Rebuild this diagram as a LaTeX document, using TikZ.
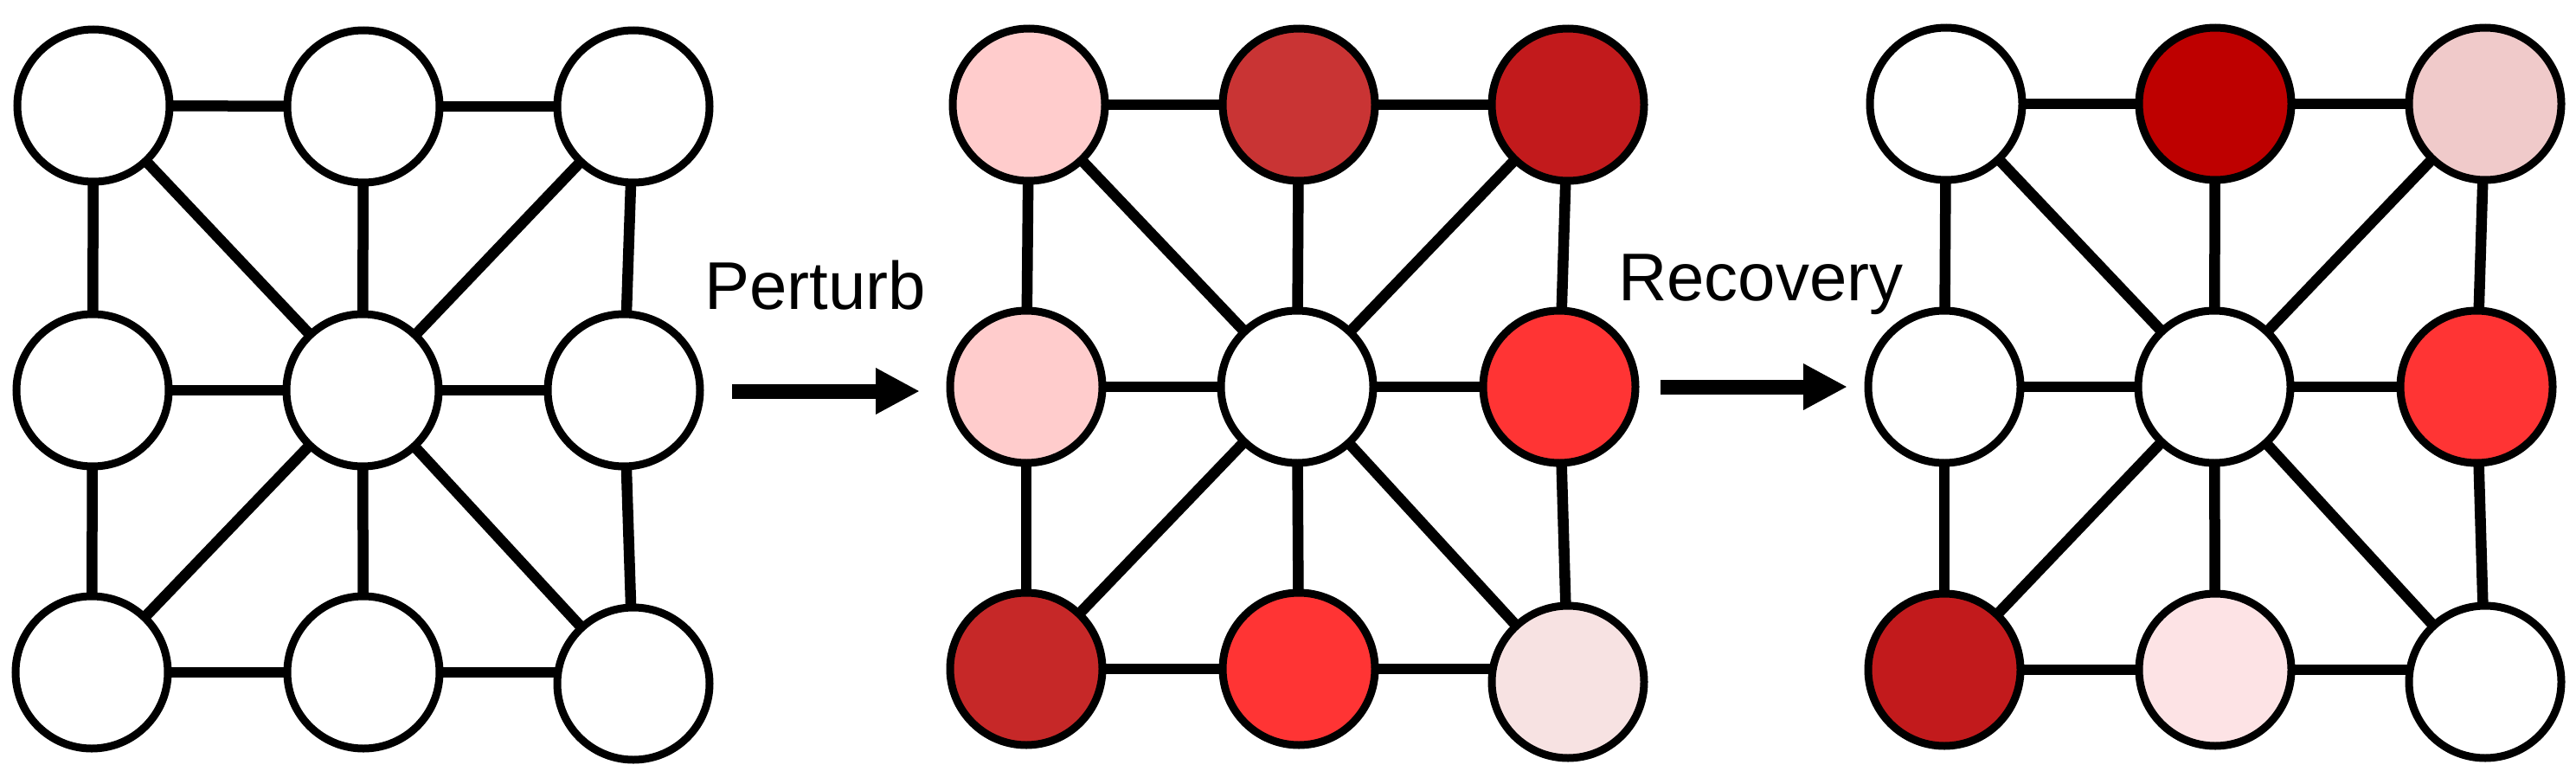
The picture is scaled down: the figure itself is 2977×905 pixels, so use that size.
\documentclass[tikz,border=0pt]{standalone}
\usepackage{fontspec}
\setmainfont{Liberation Sans}
\usetikzlibrary{arrows.meta,backgrounds}
\definecolor{pinkA}{HTML}{FFCCCC}
\definecolor{redB}{HTML}{C93434}
\definecolor{redC}{HTML}{C21A1C}
\definecolor{redD}{HTML}{FF3434}
\definecolor{redE}{HTML}{C62828}
\definecolor{pinkF}{HTML}{F7E2E2}
\definecolor{redG}{HTML}{BE0000}
\definecolor{pinkH}{HTML}{F0CACA}
\definecolor{pinkI}{HTML}{FDE3E5}
\tikzset{
  gnode/.style={circle, draw=black, line width=9pt, minimum size=176pt, inner sep=0pt, fill=white},
  gedge/.style={draw=black, line width=12.5pt},
  bigarrow/.style={line width=17pt, -{Triangle[length=51pt,width=50pt]}},
  lbl/.style={font=\fontsize{78}{90}\selectfont, inner sep=0pt, anchor=base west}
}
\begin{document}
\begin{tikzpicture}[x=1pt,y=-1pt]
\useasboundingbox (0,0) rectangle (2977,905);
% Panel 1
\node[gnode] (a1) at (108,122) {};
\node[gnode] (a2) at (420,123) {};
\node[gnode] (a3) at (732,123) {};
\node[gnode] (a4) at (107,451) {};
\node[gnode] (a5) at (419,451) {};
\node[gnode] (a6) at (721,451) {};
\node[gnode] (a7) at (106,777) {};
\node[gnode] (a8) at (420,777) {};
\node[gnode] (a9) at (732,790) {};
% Panel 2
\node[gnode, fill=pinkA] (b1) at (1189,121) {};
\node[gnode, fill=redB] (b2) at (1501,121) {};
\node[gnode, fill=redC] (b3) at (1812,121) {};
\node[gnode, fill=pinkA] (b4) at (1186,447) {};
\node[gnode] (b5) at (1499,447) {};
\node[gnode, fill=redD] (b6) at (1802,447) {};
\node[gnode, fill=redE] (b7) at (1186,773) {};
\node[gnode, fill=redD] (b8) at (1501,773) {};
\node[gnode, fill=pinkF] (b9) at (1812,788) {};
% Panel 3
\node[gnode] (c1) at (2249,120) {};
\node[gnode, fill=redG] (c2) at (2560,120) {};
\node[gnode, fill=pinkH] (c3) at (2872,120) {};
\node[gnode] (c4) at (2247,447) {};
\node[gnode] (c5) at (2559,447) {};
\node[gnode, fill=redD] (c6) at (2862,447) {};
\node[gnode, fill=redC] (c7) at (2247,774) {};
\node[gnode, fill=pinkI] (c8) at (2560,774) {};
\node[gnode] (c9) at (2872,788) {};
\begin{pgfonlayer}{background}
\foreach \p in {a,b,c}{
  \foreach \u/\v in {1/2,2/3,4/5,5/6,7/8,1/4,4/7,2/5,5/8,3/6,6/9,1/5,3/5,7/5,9/5}{
    \draw[gedge] (\p\u.center) -- (\p\v.center);
  }
  \draw[gedge] (\p8.center) -- (\p8.center -| \p9.center);
}
\end{pgfonlayer}
% Labels and arrows
\node[lbl] (t1) at (814,357) {Perturb};
\node[lbl] (t2) at (1870,347) {Recovery};
\coordinate (s1) at (846,452);
\coordinate (e1) at (1063,452);
\coordinate (s2) at (1919,447);
\coordinate (e2) at (2135,447);
\draw[bigarrow] (s1) -- (e1);
\draw[bigarrow] (s2) -- (e2);
\end{tikzpicture}
\end{document}
